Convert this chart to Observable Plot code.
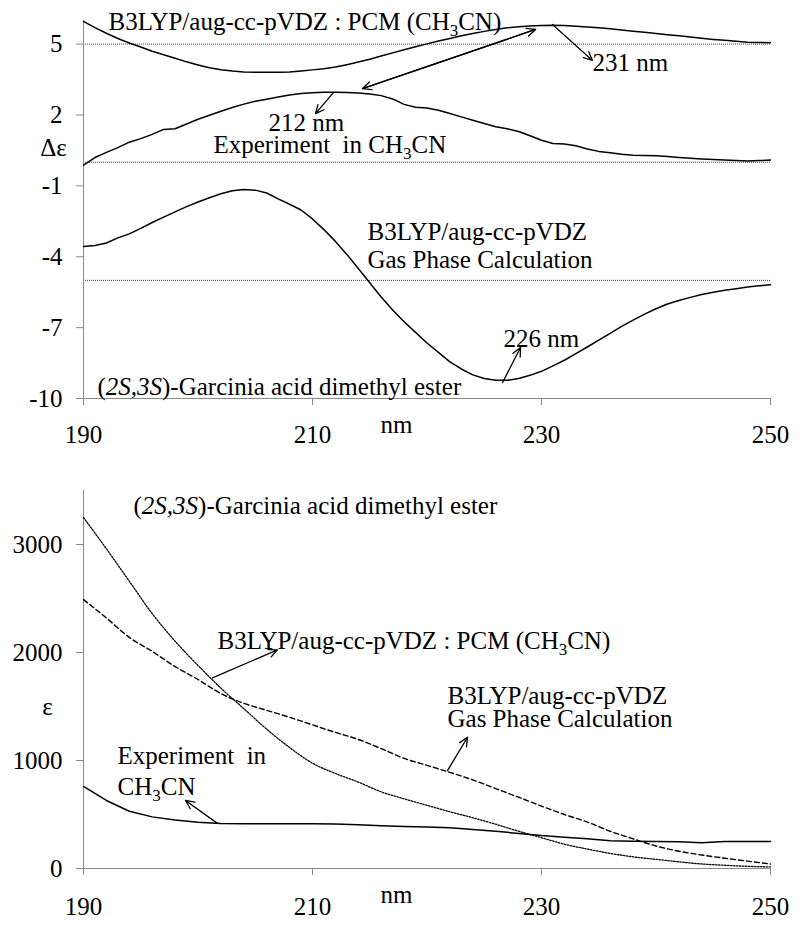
<!DOCTYPE html>
<html><head><meta charset="utf-8">
<script src="https://cdn.jsdelivr.net/npm/d3@7"></script>
<script src="https://cdn.jsdelivr.net/npm/@observablehq/plot@0.6"></script>
<style>
body{margin:0;background:#fff;}
#chart{width:800px;}
#chart svg{display:block;font-family:"Liberation Serif","Times New Roman",serif;}
#chart svg text{font-family:"Liberation Serif","Times New Roman",serif;white-space:pre;}
</style></head><body><div id="chart"></div>
<script>
// ---------- Top panel: CD spectra (Δε), offset curves ----------
const cdNm = [190,191,192,193,194,195,196,197,198,199,200,201,202,203,204,205,206,207,208,209,210,211,212,213,214,215,216,217,218,219,220,221,222,223,224,225,226,227,228,229,230,231,232,233,234,235,236,237,238,239,240,241,242,243,244,245,246,247,248,249,250];
const cdPCM = [5.96,5.70,5.46,5.24,5.05,4.88,4.70,4.55,4.40,4.25,4.12,4.00,3.92,3.86,3.82,3.81,3.81,3.81,3.82,3.86,3.91,3.96,4.03,4.13,4.24,4.36,4.50,4.63,4.76,4.89,5.01,5.13,5.24,5.35,5.45,5.54,5.62,5.69,5.74,5.77,5.79,5.80,5.79,5.76,5.73,5.69,5.65,5.60,5.55,5.50,5.45,5.40,5.35,5.30,5.25,5.20,5.16,5.12,5.08,5.07,5.06];
const cdExp = [-0.12,0.20,0.42,0.62,0.85,1.00,1.18,1.39,1.42,1.62,1.82,1.99,2.16,2.32,2.46,2.58,2.67,2.76,2.85,2.91,2.94,2.96,2.96,2.95,2.93,2.89,2.82,2.68,2.45,2.33,2.30,2.20,2.06,1.92,1.78,1.64,1.50,1.42,1.30,1.12,0.93,0.79,0.77,0.70,0.56,0.46,0.40,0.34,0.30,0.29,0.28,0.24,0.20,0.17,0.14,0.12,0.10,0.07,0.05,0.07,0.09];
const cdGas = [-3.57,-3.52,-3.42,-3.20,-3.03,-2.80,-2.55,-2.32,-2.10,-1.88,-1.68,-1.50,-1.33,-1.21,-1.15,-1.18,-1.30,-1.55,-1.78,-2.02,-2.40,-2.85,-3.35,-3.90,-4.50,-5.10,-5.70,-6.25,-6.75,-7.20,-7.65,-8.05,-8.45,-8.75,-9.00,-9.15,-9.23,-9.23,-9.15,-9.02,-8.85,-8.62,-8.38,-8.10,-7.82,-7.53,-7.24,-6.95,-6.68,-6.43,-6.20,-6.00,-5.85,-5.72,-5.60,-5.50,-5.42,-5.35,-5.28,-5.23,-5.19];
const cdBaselines = [5, 0, -5];
const cdXTicks = [190, 210, 230, 250];
const cdYTicks = [5, 2, -1, -4, -7, -10];
const cdLabels = [
  {x: 192.18, y: 5.92, text: "B3LYP/aug-cc-pVDZ : PCM (CH3CN)", anchor: "start"},
  {x: 234.45, y: 4.20, text: "231 nm", anchor: "start"},
  {x: 206.16, y: 1.68, text: "212 nm", anchor: "start"},
  {x: 201.35, y: 0.74, text: "Experiment  in CH3CN", anchor: "start"},
  {x: 214.8, y: -2.95, text: "B3LYP/aug-cc-pVDZ", anchor: "start"},
  {x: 214.8, y: -4.12, text: "Gas Phase Calculation", anchor: "start"},
  {x: 226.68, y: -7.50, text: "226 nm", anchor: "start"},
  {x: 191.22, y: -9.53, text: "(2S,3S)-Garcinia acid dimethyl ester", anchor: "start"},
  {x: 187.38, y: 0.60, text: "Δε", anchor: "middle"},
  {x: 217.34, y: -11.14, text: "nm", anchor: "middle"}
];
const cdArrows = [
  {x1: 230.96, y1: 5.83, x2: 234.45, y2: 4.31},
  {x1: 214.37, y1: 3.12, x2: 229.48, y2: 5.62},
  {x1: 229.48, y1: 5.62, x2: 214.37, y2: 3.12},
  {x1: 211.83, y1: 2.95, x2: 210.26, y2: 2.06},
  {x1: 226.6, y1: -9.32, x2: 228.17, y2: -7.84}
];

// ---------- Bottom panel: UV spectra (ε) ----------
const uvNm = [190,192,194,196,198,200,202,204,206,208,210,212,214,216,218,220,222,224,226,228,230,232,234,236,238,240,242,244,246,248,250];
const uvPCM = [3250,2960,2660,2360,2105,1880,1670,1480,1290,1120,975,880,800,710,645,585,525,470,410,345,285,225,180,140,108,85,62,42,30,20,15];
const uvGas = [2490,2320,2140,2010,1870,1750,1620,1530,1465,1400,1330,1260,1195,1110,1020,955,890,820,740,660,578,500,430,345,275,208,160,125,95,68,42];
const uvExp = [760,630,530,478,448,428,416,415,415,415,415,413,405,395,388,384,378,362,345,325,305,290,275,258,252,250,248,238,250,250,250];
const uvXTicks = [190, 210, 230, 250];
const uvYTicks = [0, 1000, 2000, 3000];
const uvLabels = [
  {x: 194.37, y: 3361, text: "(2S,3S)-Garcinia acid dimethyl ester", anchor: "start"},
  {x: 201.70, y: 2102, text: "B3LYP/aug-cc-pVDZ : PCM (CH3CN)", anchor: "start"},
  {x: 221.79, y: 1600, text: "B3LYP/aug-cc-pVDZ", anchor: "start"},
  {x: 221.79, y: 1380, text: "Gas Phase Calculation", anchor: "start"},
  {x: 192.97, y: 1040, text: "Experiment  in", anchor: "start"},
  {x: 192.97, y: 759, text: "CH3CN", anchor: "start"},
  {x: 186.86, y: 1500, text: "ε", anchor: "middle"},
  {x: 217.34, y: -241, text: "nm", anchor: "middle"}
];
const uvArrows = [
  {x1: 201.27, y1: 1765, x2: 206.94, y2: 2025},
  {x1: 221.79, y1: 907, x2: 223.54, y2: 1215},
  {x1: 201.70, y1: 418, x2: 198.91, y2: 630}
];

const FONT = "Liberation Serif";
const FS = 25;
const axisGray = "#8a8a8a";
const fmt = d => String(d);

function rows(xs, ys) { return xs.map((x, i) => ({x, y: ys[i]})); }

function richify(svg) {
  const ns = "http://www.w3.org/2000/svg";
  svg.setAttribute("font-family", FONT);
  svg.querySelectorAll("text").forEach(t => {
    if (t.querySelector("tspan")) return;
    const s = t.textContent;
    if (!/CH3CN|2S,3S/.test(s)) return;
    while (t.firstChild) t.removeChild(t.firstChild);
    const add = (str, attrs = {}) => {
      const e = document.createElementNS(ns, "tspan");
      for (const k in attrs) e.setAttribute(k, attrs[k]);
      e.textContent = str;
      t.appendChild(e);
    };
    s.split(/(CH3CN|2S,3S)/).forEach(p => {
      if (p === "CH3CN") { add("CH"); add("3", {dy: "6", "font-size": "17"}); add("CN", {dy: "-6"}); }
      else if (p === "2S,3S") add(p, {"font-style": "italic"});
      else if (p) add(p);
    });
  });
  return svg;
}

function labelMarks(data) {
  const common = {x: "x", y: "y", text: "text", lineAnchor: "middle", fontSize: FS, fontFamily: FONT, fill: "black"};
  return [
    Plot.text(data, {...common, filter: d => d.anchor === "start", textAnchor: "start"}),
    Plot.text(data, {...common, filter: d => d.anchor === "middle", textAnchor: "middle"})
  ];
}

const cdPlot = Plot.plot({
  width: 800, height: 460,
  marginLeft: 83, marginRight: 30, marginTop: 20, marginBottom: 62,
  x: {domain: [190, 250], axis: null},
  y: {domain: [-10, 6], axis: null},
  style: {background: "white", color: "black", overflow: "visible"},
  marks: [
    Plot.ruleY(cdBaselines, {stroke: "#444", strokeDasharray: "1,1", strokeWidth: 1}),
    Plot.ruleX([190], {stroke: axisGray}),
    Plot.ruleY([-10], {stroke: axisGray}),
    Plot.axisX({ticks: cdXTicks, tickSize: 7, tickPadding: 20, fontSize: FS, fontFamily: FONT, stroke: axisGray, tickFormat: fmt, label: null}),
    Plot.axisY({ticks: cdYTicks, tickSize: 7, tickPadding: 14, fontSize: FS, fontFamily: FONT, stroke: axisGray, tickFormat: fmt, label: null}),
    Plot.line(rows(cdNm, cdPCM), {x: "x", y: "y", stroke: "black", strokeWidth: 1.5}),
    Plot.line(rows(cdNm, cdExp), {x: "x", y: "y", stroke: "black", strokeWidth: 1.5}),
    Plot.line(rows(cdNm, cdGas), {x: "x", y: "y", stroke: "black", strokeWidth: 1.5}),
    Plot.arrow(cdArrows, {x1: "x1", y1: "y1", x2: "x2", y2: "y2", stroke: "black", strokeWidth: 1.3, headLength: 11, headAngle: 50}),
    ...labelMarks(cdLabels)
  ]
});

const uvPlot = Plot.plot({
  width: 800, height: 466,
  marginLeft: 83, marginRight: 30, marginTop: 30, marginBottom: 58,
  x: {domain: [190, 250], axis: null},
  y: {domain: [0, 3500], axis: null},
  style: {background: "white", color: "black", overflow: "visible"},
  marks: [
    Plot.ruleX([190], {stroke: axisGray}),
    Plot.ruleY([0], {stroke: axisGray}),
    Plot.axisX({ticks: uvXTicks, tickSize: 7, tickPadding: 22, fontSize: FS, fontFamily: FONT, stroke: axisGray, tickFormat: fmt, label: null}),
    Plot.axisY({ticks: uvYTicks, tickSize: 7, tickPadding: 14, fontSize: FS, fontFamily: FONT, stroke: axisGray, tickFormat: fmt, label: null}),
    Plot.line(rows(uvNm, uvPCM), {x: "x", y: "y", stroke: "black", strokeWidth: 1.3, strokeDasharray: "1.5,1.5", curve: "monotone-x"}),
    Plot.line(rows(uvNm, uvGas), {x: "x", y: "y", stroke: "black", strokeWidth: 1.4, strokeDasharray: "5,3", curve: "monotone-x"}),
    Plot.line(rows(uvNm, uvExp), {x: "x", y: "y", stroke: "black", strokeWidth: 1.5}),
    Plot.arrow(uvArrows, {x1: "x1", y1: "y1", x2: "x2", y2: "y2", stroke: "black", strokeWidth: 1.3, headLength: 11, headAngle: 50}),
    ...labelMarks(uvLabels)
  ]
});

const root = document.getElementById("chart");
root.appendChild(richify(cdPlot));
root.appendChild(richify(uvPlot));
</script>
</body></html>
